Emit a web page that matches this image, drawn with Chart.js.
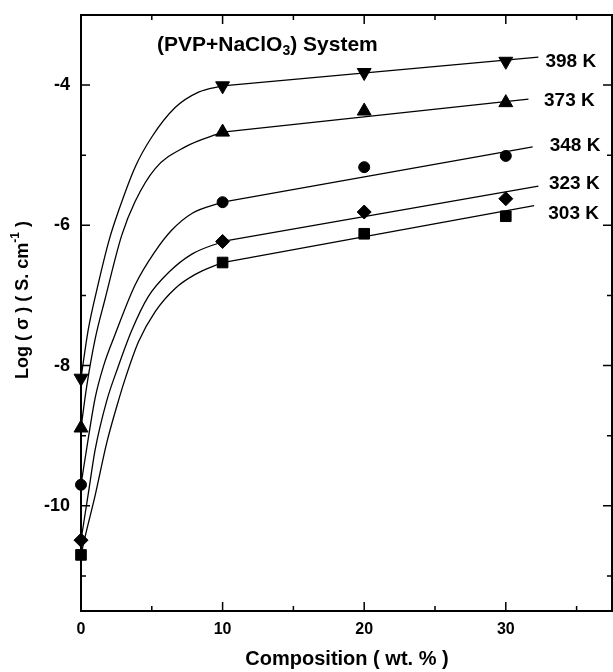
<!DOCTYPE html>
<html>
<head>
<meta charset="utf-8">
<script src="https://cdn.jsdelivr.net/npm/chart.js@4.4.1/dist/chart.umd.min.js"></script>
<style>
  html, body { margin: 0; padding: 0; background: #fff; }
</style>
</head>
<body>
<canvas id="condChart" width="613" height="672"></canvas>
<script>
// measured points, log(sigma) vs composition (wt %)
const compositions = [0, 10, 20, 30];
const temperatures = ["398 K", "373 K", "348 K", "323 K", "303 K"];
const logSigma398 = [-8.18, -4.01, -3.82, -3.66];
const logSigma373 = [-8.89, -4.67, -4.37, -4.25];
const logSigma348 = [-9.70, -5.67, -5.17, -5.01];
const logSigma323 = [-10.49, -6.23, -5.81, -5.62];
const logSigma303 = [-10.70, -6.53, -6.12, -5.87];

// hand-drawn guide curves (0 - 10 wt %)
const curveX398 = [0, 0.5, 1.2, 2.0, 2.64, 3.82, 5.0, 6.65, 8.3, 10];
const curveY398 = [-8.18, -7.5, -6.85, -6.2, -5.8, -5.17, -4.74, -4.32, -4.1, -4.01];
const curveX373 = [0, 0.4, 1.0, 1.7, 2.88, 3.82, 5.24, 7.36, 10];
const curveY373 = [-8.89, -8.3, -7.62, -7.05, -6.14, -5.66, -5.19, -4.88, -4.67];
const curveX348 = [0, 0.52, 1.0, 1.6, 2.4, 3.82, 5.24, 6.4, 7.83, 10];
const curveY348 = [-9.70, -9.03, -8.46, -8.0, -7.56, -6.85, -6.37, -6.07, -5.83, -5.67];
const curveX323 = [0, 0.52, 1.0, 1.82, 2.6, 3.58, 4.74, 6.2, 7.83, 10];
const curveY323 = [-10.49, -9.82, -9.2, -8.5, -8.03, -7.5, -7.02, -6.67, -6.41, -6.23];
const curveX303 = [0, 0.3, 1.0, 1.82, 2.53, 3.1, 4.06, 5.24, 6.65, 8.07, 10];
const curveY303 = [-10.70, -10.43, -9.85, -9.1, -8.58, -8.2, -7.66, -7.23, -6.9, -6.7, -6.53];

// linear fits above 10 wt %
const fitX398 = [10, 32.3];
const fitY398 = [-4.01, -3.60];
const fitX373 = [10, 31.6];
const fitY373 = [-4.67, -4.20];
const fitX348 = [10, 31.9];
const fitY348 = [-5.67, -4.88];
const fitX323 = [10, 32.3];
const fitY323 = [-6.23, -5.44];
const fitX303 = [10, 32.0];
const fitY303 = [-6.53, -5.72];

const xTicks = [0, 10, 20, 30];
const yTicks = [-10, -8, -6, -4];

const toPts = (xs, ys) => xs.map((x, i) => ({ x: x, y: ys[i] }));

const series = [
  { values: logSigma398, cx: curveX398, cy: curveY398, fx: fitX398, fy: fitY398, style: "triangle", rot: 180, r: 8 },
  { values: logSigma373, cx: curveX373, cy: curveY373, fx: fitX373, fy: fitY373, style: "triangle", rot: 0, r: 8 },
  { values: logSigma348, cx: curveX348, cy: curveY348, fx: fitX348, fy: fitY348, style: "circle", rot: 0, r: 5.5 },
  { values: logSigma323, cx: curveX323, cy: curveY323, fx: fitX323, fy: fitY323, style: "rectRot", rot: 0, r: 7 },
  { values: logSigma303, cx: curveX303, cy: curveY303, fx: fitX303, fy: fitY303, style: "rect", rot: 0, r: 7.5 }
];

const datasets = [];
series.forEach((s, i) => {
  datasets.push({
    label: temperatures[i] + " curve",
    data: toPts(s.cx, s.cy),
    showLine: true,
    pointRadius: 0,
    borderColor: "#000",
    borderWidth: 1.3,
    cubicInterpolationMode: "monotone",
    clip: false
  });
  datasets.push({
    label: temperatures[i] + " fit",
    data: toPts(s.fx, s.fy),
    showLine: true,
    pointRadius: 0,
    borderColor: "#000",
    borderWidth: 1.3,
    tension: 0,
    clip: false
  });
  datasets.push({
    label: temperatures[i],
    data: toPts(compositions, s.values),
    showLine: false,
    pointStyle: s.style,
    rotation: s.rot,
    pointRadius: s.r,
    backgroundColor: "#000",
    borderColor: "#000",
    borderWidth: 1,
    clip: false
  });
});

// label anchors in data units (left edge, vertical centre)
const labelAt = [[32.8, -3.66], [32.7, -4.23], [33.1, -4.87], [33.05, -5.41], [33.0, -5.83]];

const FONT = "'Liberation Sans', Arial, sans-serif";

const framePlugin = {
  id: "frame",
  afterDraw(chart) {
    const ctx = chart.ctx;
    const a = chart.chartArea;
    const xs = chart.scales.x;
    const ys = chart.scales.y;
    ctx.save();
    ctx.strokeStyle = "#000";
    ctx.lineWidth = 2;
    ctx.strokeRect(a.left, a.top, a.right - a.left, a.bottom - a.top);

    ctx.lineWidth = 1.5;
    ctx.beginPath();
    for (let v = 5; v < 37.5; v += 5) {
      const px = xs.getPixelForValue(v);
      const len = v % 10 === 0 ? 9 : 5;
      ctx.moveTo(px, a.bottom); ctx.lineTo(px, a.bottom - len);
      ctx.moveTo(px, a.top); ctx.lineTo(px, a.top + len);
    }
    for (let v = -11; v <= -3; v += 1) {
      const py = ys.getPixelForValue(v);
      const len = v % 2 === 0 ? 9 : 5;
      ctx.moveTo(a.left, py); ctx.lineTo(a.left + len, py);
      ctx.moveTo(a.right, py); ctx.lineTo(a.right - len, py);
    }
    ctx.stroke();

    ctx.fillStyle = "#000";
    ctx.textBaseline = "middle";
    ctx.textAlign = "left";
    ctx.font = "bold 19px " + FONT;
    temperatures.forEach((t, i) => {
      ctx.fillText(t, xs.getPixelForValue(labelAt[i][0]), ys.getPixelForValue(labelAt[i][1]));
    });

    // title with subscript
    ctx.font = "bold 21px " + FONT;
    let tx = 157;
    const ty = 45;
    ctx.fillText("(PVP+NaClO", tx, ty);
    tx += ctx.measureText("(PVP+NaClO").width;
    ctx.font = "bold 14px " + FONT;
    ctx.fillText("3", tx, ty + 6);
    tx += ctx.measureText("3").width;
    ctx.font = "bold 21px " + FONT;
    ctx.fillText(") System", tx, ty);

    // x axis title
    ctx.textAlign = "center";
    ctx.font = "bold 20px " + FONT;
    ctx.fillText("Composition ( wt. % )", 347, 659);

    // y axis title with superscript
    ctx.translate(23, 300);
    ctx.rotate(-Math.PI / 2);
    const p1 = "Log ( \u03c3 ) ( S. cm";
    const p2 = "-1";
    const p3 = " )";
    ctx.font = "bold 18px " + FONT;
    const w1 = ctx.measureText(p1).width;
    const w3 = ctx.measureText(p3).width;
    ctx.font = "bold 12px " + FONT;
    const w2 = ctx.measureText(p2).width;
    let sx = -(w1 + w2 + w3) / 2;
    ctx.textAlign = "left";
    ctx.font = "bold 18px " + FONT;
    ctx.fillText(p1, sx, 0);
    sx += w1;
    ctx.font = "bold 12px " + FONT;
    ctx.fillText(p2, sx, -7);
    sx += w2;
    ctx.font = "bold 18px " + FONT;
    ctx.fillText(p3, sx, 0);
    ctx.restore();
  }
};

const whiteBg = {
  id: "whiteBg",
  beforeDraw(chart) {
    const ctx = chart.ctx;
    ctx.save();
    ctx.fillStyle = "#fff";
    ctx.fillRect(0, 0, chart.width, chart.height);
    ctx.restore();
  }
};

new Chart(document.getElementById("condChart").getContext("2d"), {
  type: "scatter",
  data: { datasets: datasets },
  options: {
    responsive: false,
    animation: false,
    layout: { autoPadding: false, padding: { top: 15, right: 1, left: 0, bottom: 0 } },
    plugins: { legend: { display: false }, tooltip: { enabled: false } },
    scales: {
      x: {
        type: "linear",
        min: 0,
        max: 37.5,
        afterBuildTicks: s => { s.ticks = xTicks.map(v => ({ value: v })); },
        afterFit: s => { s.height = 61; s.paddingLeft = 0; s.paddingRight = 0; },
        grid: { display: false, drawTicks: false },
        border: { display: false },
        ticks: { color: "#000", padding: 9, font: { family: FONT, size: 16, weight: "bold" } }
      },
      y: {
        type: "linear",
        min: -11.5,
        max: -3,
        afterBuildTicks: s => { s.ticks = yTicks.map(v => ({ value: v })); },
        afterFit: s => { s.width = 81; s.paddingTop = 0; s.paddingBottom = 0; },
        grid: { display: false, drawTicks: false },
        border: { display: false },
        ticks: { color: "#000", padding: 11, font: { family: FONT, size: 18, weight: "bold" } }
      }
    }
  },
  plugins: [whiteBg, framePlugin]
});
</script>
</body>
</html>
